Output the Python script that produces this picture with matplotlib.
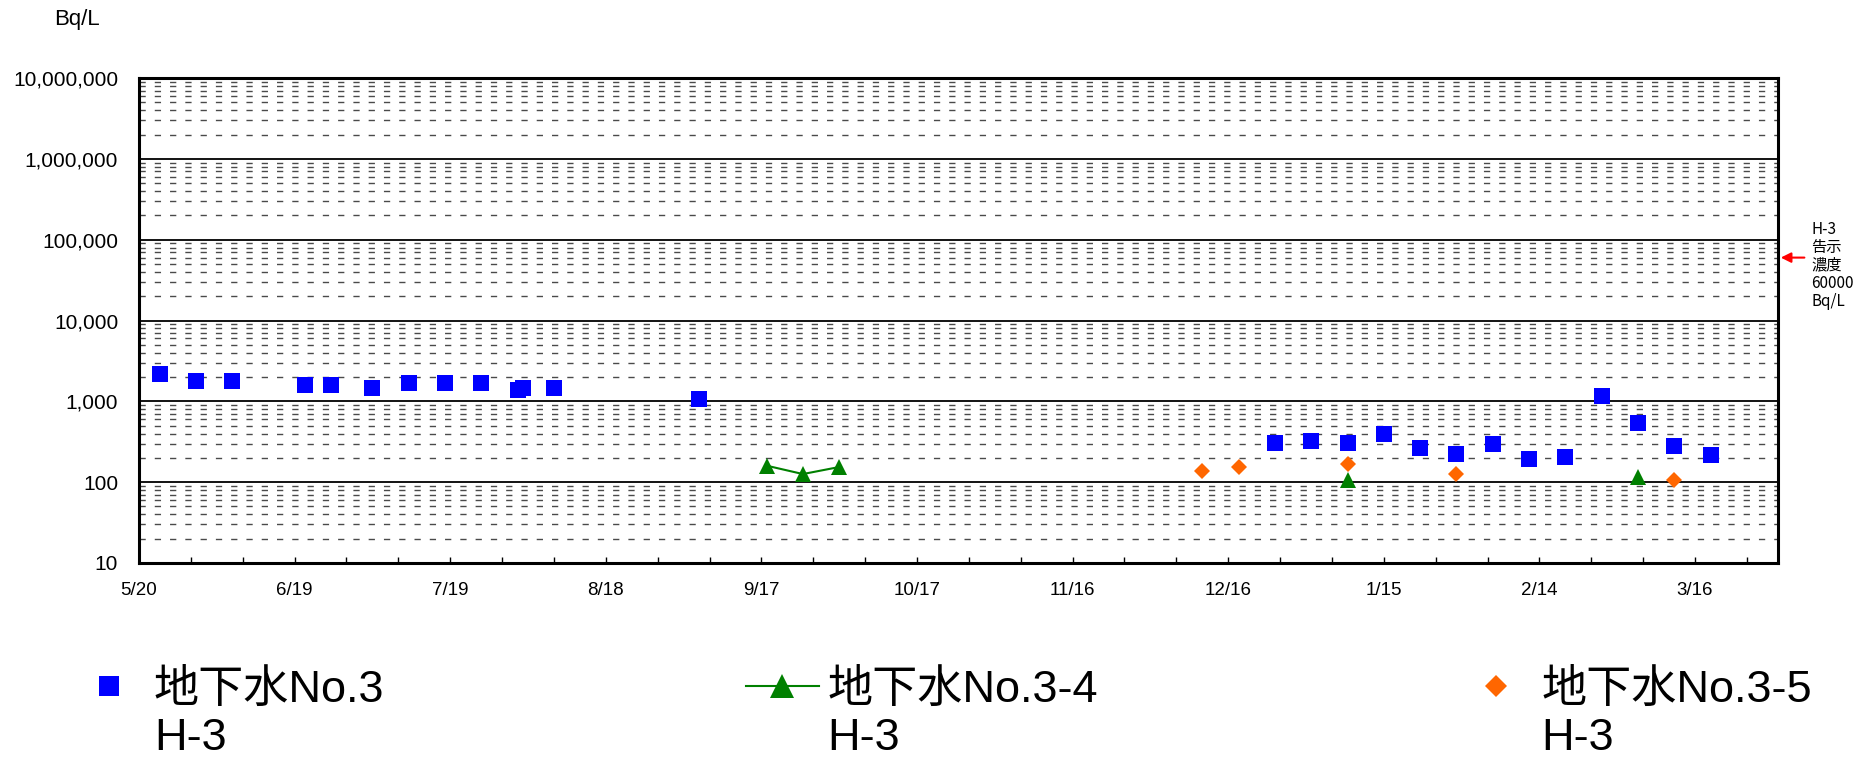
import datetime as dt
import matplotlib
matplotlib.use("Agg")
import matplotlib.pyplot as plt
import matplotlib.dates as mdates
from matplotlib.lines import Line2D
from matplotlib.ticker import LogLocator, FuncFormatter, NullFormatter
from matplotlib.font_manager import FontProperties

plt.rcParams['font.family'] = ['Liberation Sans', 'Noto Sans CJK JP', 'DejaVu Sans']

def d(s):
  return dt.datetime.strptime(s, "%Y/%m/%d")

# 地下水No.3 H-3
no3_dates = ["2013/5/24", "2013/5/31", "2013/6/7", "2013/6/21", "2013/6/26", "2013/7/4",
             "2013/7/11", "2013/7/18", "2013/7/25", "2013/8/1", "2013/8/2", "2013/8/8",
             "2013/9/5", "2013/12/25", "2014/1/1", "2014/1/8", "2014/1/15", "2014/1/22",
             "2014/1/29", "2014/2/5", "2014/2/12", "2014/2/19", "2014/2/26", "2014/3/5",
             "2014/3/12", "2014/3/19"]
no3_vals = [2200, 1780, 1780, 1570, 1570, 1480, 1680, 1680, 1680, 1380, 1470, 1470,
            1080, 304, 322, 304, 390, 264, 224, 296, 194, 204, 1180, 540, 282, 218]

# 地下水No.3-4 H-3
no34_dates = ["2013/9/18", "2013/9/25", "2013/10/2", "2014/1/8", "2014/3/5"]
no34_vals = [160, 126, 154, 107, 116]

# 地下水No.3-5 H-3
no35_dates = ["2013/12/11", "2013/12/18", "2014/1/8", "2014/1/29", "2014/3/12"]
no35_vals = [136, 155, 166, 127, 107]

legend_names = ["地下水No.3", "地下水No.3-4", "地下水No.3-5"]
legend_sub = "H-3"
limit_value = 60000
limit_text = "H-3\n告示\n濃度\n60000\nBq/L"

x_start = "2013/5/20"
x_end = "2014/4/1"

BLUE = "#0000ff"
GREEN = "#008000"
ORANGE = "#ff6600"

fig, ax = plt.subplots(figsize=(18.63, 7.6), dpi=100)
fig.subplots_adjust(left=139/1863, right=1778/1863, top=1-78/760, bottom=1-563/760)

x3 = [d(s) for s in no3_dates]
ax.plot(x3, no3_vals, ls='none', marker='s', ms=11.5, color=BLUE, mew=0, zorder=3)

# green line only joins weekly consecutive samples
x34 = [d(s) for s in no34_dates]
seg_x, seg_y = [x34[0]], [no34_vals[0]]
for i in range(1, len(x34)):
  if (x34[i] - x34[i-1]).days > 7:
    ax.plot(seg_x, seg_y, color=GREEN, lw=1.5, marker='^', ms=11.5, mew=0, zorder=3)
    seg_x, seg_y = [], []
  seg_x.append(x34[i])
  seg_y.append(no34_vals[i])
ax.plot(seg_x, seg_y, color=GREEN, lw=1.5, marker='^', ms=11.5, mew=0, zorder=3)

x35 = [d(s) for s in no35_dates]
ax.plot(x35, no35_vals, ls='none', marker='D', ms=8.5, color=ORANGE, mew=0, zorder=3)

ax.set_yscale('log')
ax.set_ylim(10, 1e7)
ax.set_xlim(d(x_start), d(x_end))

ax.yaxis.set_major_locator(LogLocator(base=10, numticks=10))
ax.yaxis.set_minor_locator(LogLocator(base=10, subs=range(2, 10), numticks=100))
ax.yaxis.set_major_formatter(FuncFormatter(lambda v, p: f"{int(round(v)):,}"))
ax.yaxis.set_minor_formatter(NullFormatter())
ax.tick_params(axis='y', which='both', length=0, pad=15, labelsize=15)

start = d(x_start)
major = [start + dt.timedelta(days=30*i) for i in range(11)]
minor = [start + dt.timedelta(days=10*i) for i in range(32)]
ax.set_xticks(major)
ax.set_xticks(minor, minor=True)
ax.xaxis.set_major_formatter(FuncFormatter(lambda v, p: f"{mdates.num2date(v).month}/{mdates.num2date(v).day}"))
ax.tick_params(axis='x', which='both', direction='in', length=4, width=1, pad=14, labelsize=13.5)

ax.set_axisbelow(True)
ax.yaxis.grid(True, which='major', color='black', lw=1.3, ls='-')
ax.yaxis.grid(True, which='minor', color='#4a4a4a', lw=1.0, ls=(0, (4.5, 6.5)))
for sp in ax.spines.values():
  sp.set_linewidth(2.2)

fig.text(77/1863, 1-20/760, "Bq/L", ha='center', va='center', fontsize=16)

ax.annotate("", xy=(1.0, limit_value), xycoords=('axes fraction', 'data'),
            xytext=(21, 0), textcoords='offset points',
            arrowprops=dict(arrowstyle='-|>', color='red', lw=1.5, mutation_scale=15),
            annotation_clip=False)
ax.annotate(limit_text, xy=(1.0, limit_value), xycoords=('axes fraction', 'data'),
            xytext=(24, -5.5), textcoords='offset points', ha='left', va='center',
            fontsize=11, linespacing=1.08, family=['Noto Sans CJK JP'],
            annotation_clip=False)

handles = [
  Line2D([], [], ls='none', marker='s', ms=15, color=BLUE, mew=0),
  Line2D([], [], ls='-', lw=1.5, marker='^', ms=17, color=GREEN, mew=0),
  Line2D([], [], ls='none', marker='D', ms=11, color=ORANGE, mew=0),
]
prop = FontProperties(family=['Liberation Sans', 'Noto Sans CJK JP'], size=32.5)
leg = fig.legend(handles, legend_names, loc='center left', bbox_to_anchor=(72/1863, 1-690/760),
                 ncol=3, frameon=False, prop=prop, handlelength=1.63, handletextpad=0.185,
                 columnspacing=8.0, borderpad=0, borderaxespad=0)

fig.canvas.draw()
renderer = fig.canvas.get_renderer()
for t in leg.get_texts():
  bb = t.get_window_extent(renderer)
  fig.text(bb.x0 / fig.bbox.width, 1-739/760, legend_sub, ha='left', va='center',
           fontproperties=prop)

fig.savefig('out.png', dpi=100)
